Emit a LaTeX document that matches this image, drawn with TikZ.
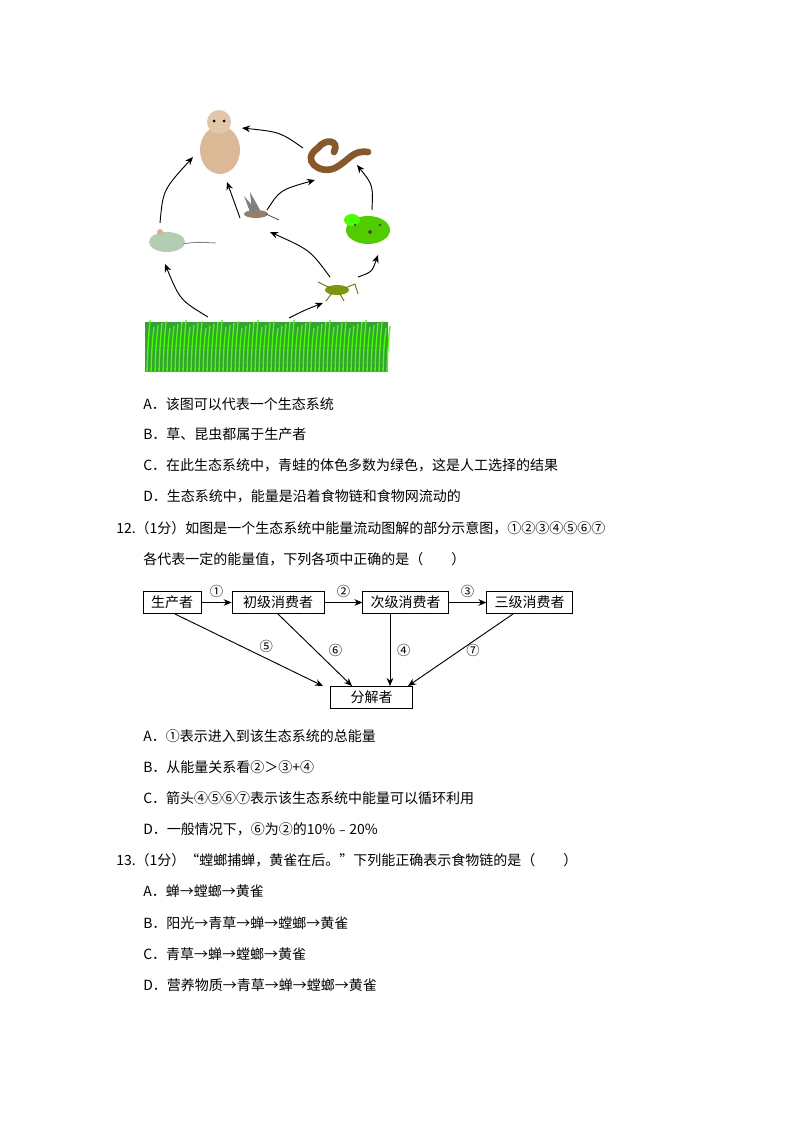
\documentclass[tikz,border=0pt]{standalone}
\usepackage{fontspec}
\setmainfont{Noto Sans CJK SC}
\usetikzlibrary{arrows.meta,shapes.geometric}
\begin{document}
\begin{tikzpicture}[x=0.75pt,y=-0.75pt,
  txt/.style={anchor=west,inner sep=0pt,font=\fontsize{10.5pt}{12pt}\selectfont},
  box/.style={draw,line width=0.6pt,inner sep=0pt,font=\fontsize{10.5pt}{12pt}\selectfont},
  arr/.style={-{Stealth[length=6pt,width=5pt]},line width=0.7pt},
  lab/.style={font=\fontsize{10pt}{12pt}\selectfont,inner sep=0pt}]
\useasboundingbox (0,0) rectangle (794,1123);
\fill[white] (0,0) rectangle (794,1123);
% grass
\fill[green!55!black!80] (145,322) rectangle (388,372);
\foreach \i in {0,...,60}{
  \pgfmathsetmacro\xx{147+\i*4}
  \draw[green!60!lime,line width=1pt] (\xx,372) .. controls (\xx+1,345) .. (\xx+3,{320+mod(\i*7,9)});
}
% owl
\fill[brown!55!white] (220,150) ellipse (20 and 24);
\fill[brown!45!white] (219,122) circle (12);
\fill[black] (214,121) circle (1.5) (224,121) circle (1.5);
\node (owl) at (220,142) [minimum width=38pt,minimum height=52pt] {};
% snake
\draw[brown!70!black,line width=5pt,line cap=round] (318,148) .. controls (300,160) and (320,175) .. (335,168) .. controls (350,160) and (352,150) .. (368,152);
\draw[brown!70!black,line width=5pt,line cap=round] (318,148) .. controls (325,138) and (340,140) .. (334,152);
\node (snake) at (337,158) [minimum width=52pt,minimum height=30pt] {};
% bird
\fill[gray!70!brown] (256,214) ellipse (12 and 4);
\fill[gray] (250,212) -- (244,196) -- (256,210) -- cycle;
\fill[gray] (252,212) -- (250,192) -- (260,210) -- cycle;
\draw[gray!60!black,line width=0.6pt] (266,214) -- (279,220);
\node (bird) at (258,210) [minimum width=30pt,minimum height=27pt] {};
% frog
\fill[green!60!yellow!80!black] (368,230) ellipse (22 and 14);
\fill[green!70!yellow] (352,220) ellipse (8 and 6);
\fill[black!70] (355,225) circle (1.5) (370,232) circle (2) (380,225) circle (1.5);
\node (frog) at (367,228) [minimum width=42pt,minimum height=34pt] {};
% mouse
\fill[black!65!green!30] (167,242) ellipse (18 and 10);
\fill[brown!60] (160,232) circle (3);
\draw[gray,line width=0.6pt] (183,244) .. controls (195,242) .. (216,243);
\node (mouse) at (165,242) [minimum width=30pt,minimum height=30pt] {};
% grasshopper
\fill[olive!70!green] (337,290) ellipse (12 and 5);
\draw[olive!80!black,line width=0.7pt] (330,288) -- (318,282) (345,288) -- (355,284) -- (358,294) (332,293) -- (326,301) (340,294)--(344,301);
\node (hopper) at (335,290) [minimum width=33pt,minimum height=22pt] {};
\coordinate (g1) at (208,317); \coordinate (g2) at (289,318);
% arrows
\draw[arr] (160,223) .. controls (163,190) .. (193,157);
\draw[arr] (g1) .. controls (180,300) .. (165,264);
\draw[arr] (g2) .. controls (305,310) .. (323,303);
\draw[arr] (330,277) .. controls (310,250) .. (270,232);
\draw[arr] (358,277) .. controls (372,272) .. (378,255);
\draw[arr] (240,218) -- (227,182);
\draw[arr] (267,210) .. controls (280,190) .. (315,180);
\draw[arr] (372,210) .. controls (373,185) .. (357,165);
\draw[arr] (303,148) .. controls (280,132) .. (242,128);
% text Q11
\node[txt] at (143,404) {A．该图可以代表一个生态系统};
\node[txt] at (143,434) {B．草、昆虫都属于生产者};
\node[txt] at (143,465) {C．在此生态系统中，青蛙的体色多数为绿色，这是人工选择的结果};
\node[txt] at (143,496) {D．生态系统中，能量是沿着食物链和食物网流动的};
\node[txt] at (116,528) {12.（1分）如图是一个生态系统中能量流动图解的部分示意图，①②③④⑤⑥⑦};
\node[txt] at (143,559) {各代表一定的能量值，下列各项中正确的是（\hspace{2em}）};
% flow diagram
\node[box,minimum width=43.5pt,minimum height=17pt] (p) at (172,602.5) {生产者};
\node[box,minimum width=69pt,minimum height=17pt] (c1) at (278,602.5) {初级消费者};
\node[box,minimum width=64pt,minimum height=17pt] (c2) at (405.5,602.5) {次级消费者};
\node[box,minimum width=64pt,minimum height=17pt] (c3) at (529.5,602.5) {三级消费者};
\node[box,minimum width=62pt,minimum height=17pt] (d) at (371.5,697.5) {分解者};
\draw[arr] (p) -- (c1) node[lab,midway,above=3pt] {①};
\draw[arr] (c1) -- (c2) node[lab,midway,above=3pt] {②};
\draw[arr] (c2) -- (c3) node[lab,midway,above=3pt] {③};
\draw[arr] (175,614) -- (323,686) node[lab,pos=0.56,above right=1pt] {⑤};
\draw[arr] (278,614) -- (352,686) node[lab,pos=0.5,right=10pt] {⑥};
\draw[arr] (390,614) -- (390,686) node[lab,midway,right=5pt] {④};
\draw[arr] (513,614) -- (408,686) node[lab,pos=0.5,right=4pt] {⑦};
% options Q12
\node[txt] at (143,736) {A．①表示进入到该生态系统的总能量};
\node[txt] at (143,767) {B．从能量关系看②＞③+④};
\node[txt] at (143,798) {C．箭头④⑤⑥⑦表示该生态系统中能量可以循环利用};
\node[txt] at (143,829) {D．一般情况下，⑥为②的10\%﹣20\%};
% Q13
\node[txt] at (116,860) {13.（1分）“螳螂捕蝉，黄雀在后。”下列能正确表示食物链的是（\hspace{2em}）};
\node[txt] at (143,891) {A．蝉→螳螂→黄雀};
\node[txt] at (143,923) {B．阳光→青草→蝉→螳螂→黄雀};
\node[txt] at (143,954) {C．青草→蝉→螳螂→黄雀};
\node[txt] at (143,985) {D．营养物质→青草→蝉→螳螂→黄雀};
\end{tikzpicture}
\end{document}
